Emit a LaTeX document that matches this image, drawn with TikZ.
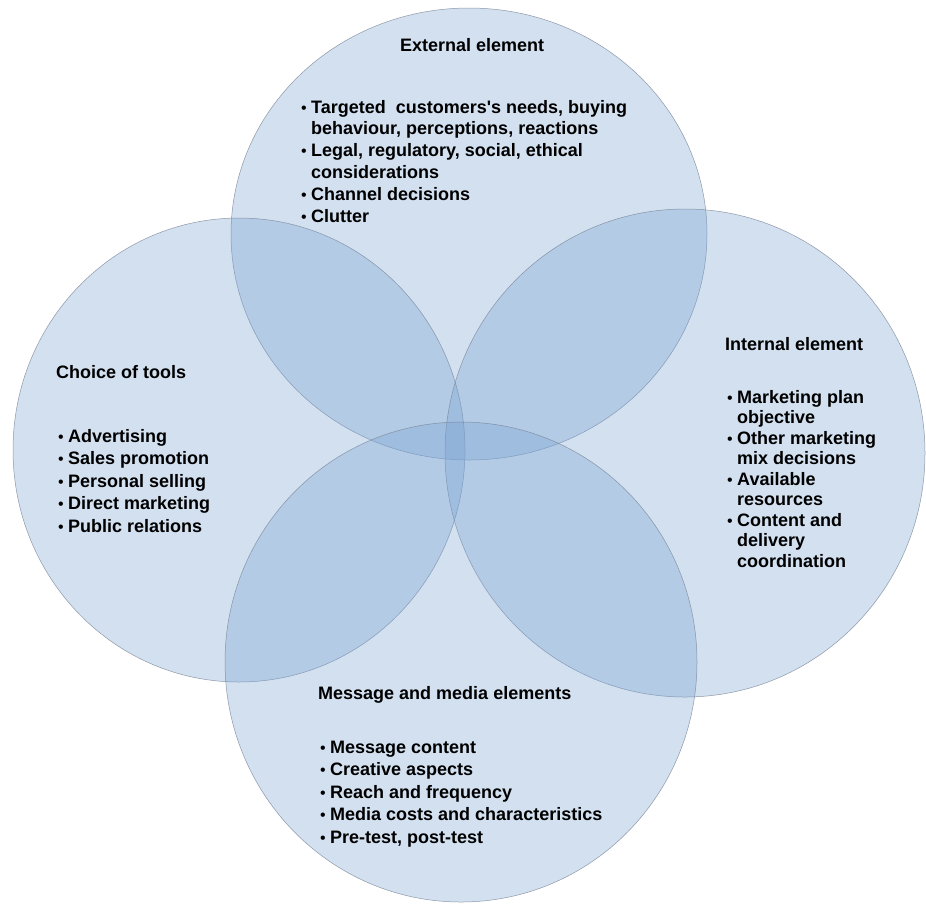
\documentclass[tikz,border=0pt]{standalone}
\usepackage{fontspec}
\setmainfont{Liberation Sans}
\definecolor{circfill}{RGB}{119,161,210}
\definecolor{circline}{RGB}{120,132,150}
\begin{document}
\begin{tikzpicture}[x=1pt,y=-1pt,
  venn/.style={fill=circfill,fill opacity=0.33,draw=circline,draw opacity=0.8,line width=0.5pt},
  ttl/.style={anchor=base west,inner sep=0pt,font=\fontsize{18}{22}\selectfont\bfseries},
  lst/.style={anchor=base west,inner sep=0pt,font=\fontsize{18}{#1}\selectfont\bfseries}]
\useasboundingbox (0,0) rectangle (926,903);
\fill[white] (0,0) rectangle (926,903);
\draw[venn] (469,234) ellipse [x radius=238,y radius=226];
\draw[venn] (239,450) ellipse [x radius=226,y radius=232];
\draw[venn] (685,453) ellipse [x radius=240,y radius=244];
\draw[venn] (461,662) ellipse [x radius=236,y radius=240];
\newcommand{\bu}{\makebox[10pt][l]{\fontsize{16}{16}\fontseries{m}\selectfont\textbullet}}
\node[ttl] (extT) at (400,51) {External element};
\node[lst=21.8] (extL) at (301,113) {\begin{tabular}[t]{@{}l@{}l@{}}
\bu & Targeted\ \ customers\textquotesingle s needs, buying\\
 & behaviour, perceptions, reactions\\
\bu & Legal, regulatory, social, ethical\\
 & considerations\\
\bu & Channel decisions\\
\bu & Clutter
\end{tabular}};
\node[ttl] (choT) at (56,378) {Choice of tools};
\node[lst=22.5] (choL) at (58,442) {\begin{tabular}[t]{@{}l@{}l@{}}
\bu & Advertising\\
\bu & Sales promotion\\
\bu & Personal selling\\
\bu & Direct marketing\\
\bu & Public relations
\end{tabular}};
\node[ttl] (intT) at (725,350) {Internal element};
\node[lst=20.5] (intL) at (727,403) {\begin{tabular}[t]{@{}l@{}l@{}}
\bu & Marketing plan\\
 & objective\\
\bu & Other marketing\\
 & mix decisions\\
\bu & Available\\
 & resources\\
\bu & Content and\\
 & delivery\\
 & coordination
\end{tabular}};
\node[ttl] (msgT) at (318,699) {Message and media elements};
\node[lst=22.5] (msgL) at (320,753) {\begin{tabular}[t]{@{}l@{}l@{}}
\bu & Message content\\
\bu & Creative aspects\\
\bu & Reach and frequency\\
\bu & Media costs and characteristics\\
\bu & Pre-test, post-test
\end{tabular}};
\end{tikzpicture}
\end{document}
